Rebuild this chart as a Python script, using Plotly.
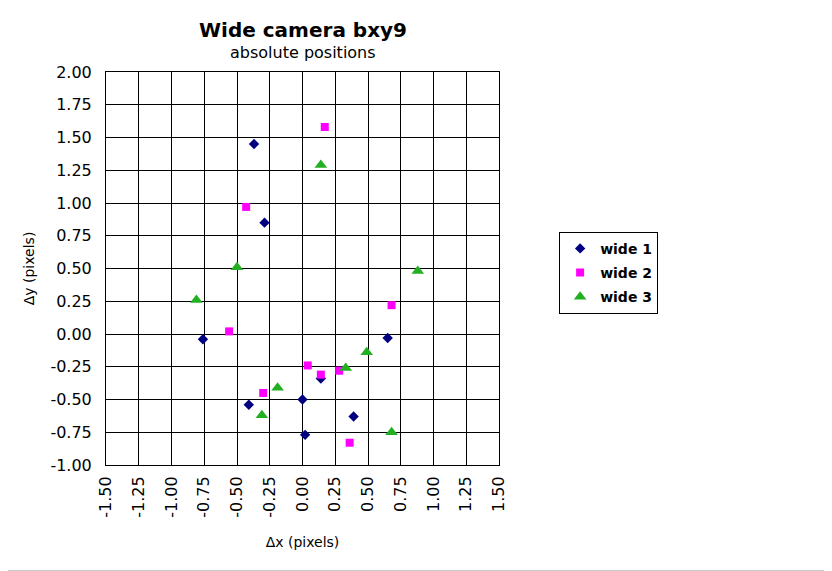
import plotly.graph_objects as go

# wide camera bxy9, absolute positions (pixels)
wide1_x = [-0.37, -0.29, -0.76, 0.65, 0.14, -0.41, 0.00, 0.39, 0.02]
wide1_y = [1.45, 0.85, -0.04, -0.03, -0.34, -0.54, -0.50, -0.63, -0.77]

wide2_x = [0.17, -0.43, 0.68, -0.56, 0.04, 0.14, 0.28, -0.30, 0.36]
wide2_y = [1.58, 0.97, 0.22, 0.02, -0.24, -0.31, -0.28, -0.45, -0.83]

wide3_x = [0.14, -0.50, 0.88, -0.81, 0.49, 0.33, -0.19, -0.31, 0.68]
wide3_y = [1.29, 0.51, 0.48, 0.26, -0.14, -0.26, -0.41, -0.62, -0.75]

series_names = ['wide 1', 'wide 2', 'wide 3']

x_ticks = [-1.5, -1.25, -1.0, -0.75, -0.5, -0.25, 0.0, 0.25, 0.5, 0.75, 1.0, 1.25, 1.5]
y_ticks = [-1.0, -0.75, -0.5, -0.25, 0.0, 0.25, 0.5, 0.75, 1.0, 1.25, 1.5, 1.75, 2.0]

font_family = 'DejaVu Sans'

fig = go.Figure()

fig.add_trace(go.Scatter(
    x=wide1_x, y=wide1_y, mode='markers', name=series_names[0], legendgroup='a',
    marker=dict(symbol='diamond', size=8, color='#000080')
))
fig.add_trace(go.Scatter(
    x=wide2_x, y=wide2_y, mode='markers', name=series_names[1], legendgroup='b',
    marker=dict(symbol='square', size=8, color='#FF00FF')
))
fig.add_trace(go.Scatter(
    x=wide3_x, y=wide3_y, mode='markers', name=series_names[2], legendgroup='c',
    marker=dict(symbol='triangle-up', size=11, color='#22B022')
))

# page is drawn 8px in from the window corner
fig.update_layout(
    width=824, height=563,
    paper_bgcolor='white',
    plot_bgcolor='white',
    margin=dict(l=98, r=333, t=64, b=106),
    font=dict(family=font_family, color='black', size=15),
    xaxis=dict(
        range=[-1.5, 1.5], tickmode='array', tickvals=x_ticks,
        ticktext=['%.2f' % v for v in x_ticks], tickangle=-90,
        showgrid=True, gridcolor='black', gridwidth=1,
        zeroline=False, showline=True, linecolor='black', linewidth=1, mirror=True,
        ticks='', tickfont=dict(size=16), ticklabelstandoff=4,
        title=dict(text='Δx (pixels)', font=dict(size=14), standoff=20)
    ),
    yaxis=dict(
        range=[-1.0, 2.0], tickmode='array', tickvals=y_ticks,
        ticktext=['%.2f' % v for v in y_ticks],
        showgrid=True, gridcolor='black', gridwidth=1,
        zeroline=False, showline=True, linecolor='black', linewidth=1, mirror=True,
        ticks='', tickfont=dict(size=16), ticklabelstandoff=10,
        title=dict(text='Δy (pixels)', font=dict(size=14), standoff=12)
    ),
    legend=dict(
        x=1.153, xanchor='left', y=0.489, yanchor='middle',
        bordercolor='black', borderwidth=1, bgcolor='white',
        font=dict(size=14, weight='bold'), tracegroupgap=3
    ),
    annotations=[
        dict(text='<b>Wide camera bxy9</b>', xref='paper', yref='paper',
             x=0.5, y=(465 - 30) / 393, xanchor='center', yanchor='middle',
             showarrow=False, font=dict(size=20)),
        dict(text='absolute positions', xref='paper', yref='paper',
             x=0.5, y=(465 - 52) / 393, xanchor='center', yanchor='middle',
             showarrow=False, font=dict(size=16)),
    ],
    shapes=[
        dict(type='line', xref='paper', yref='paper',
             x0=-0.3, x1=1.9, y0=(465 - 570.5) / 393, y1=(465 - 570.5) / 393,
             line=dict(color='#C8C8C8', width=1)),
    ],
    showlegend=True
)

fig.write_html("out.html")
